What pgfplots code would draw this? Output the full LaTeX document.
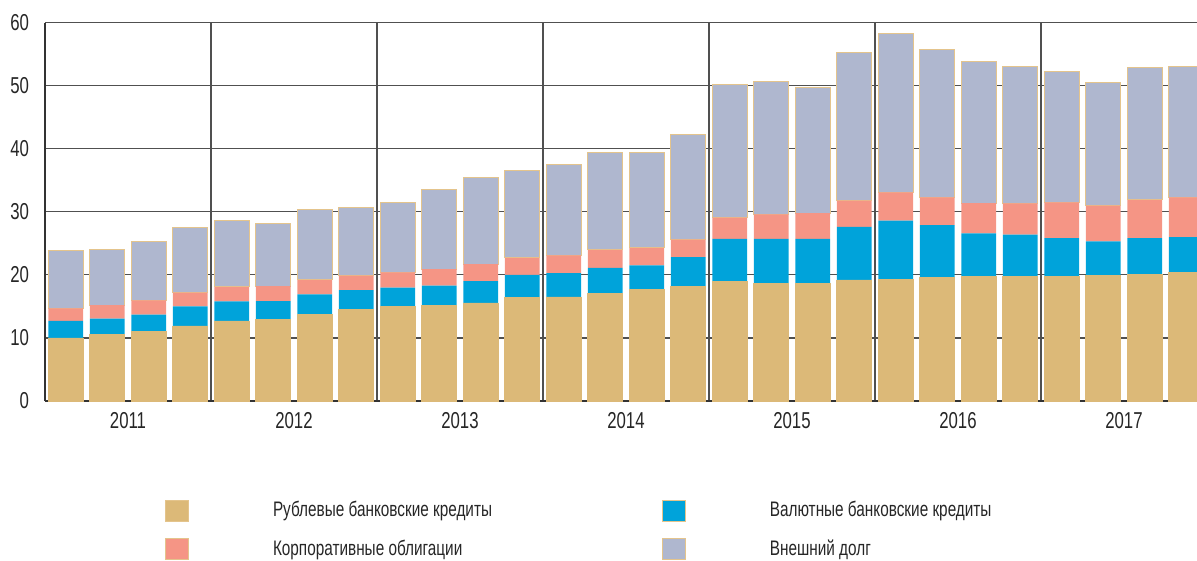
\documentclass[border=0pt]{standalone}
\usepackage{fontspec}
\setmainfont{Liberation Sans}[FakeStretch=0.73]
\usepackage{pgfplots}
\usepackage{pgfplotstable}
\pgfplotsset{compat=1.18}

\definecolor{rub}{RGB}{220,185,120}
\definecolor{val}{RGB}{0,163,218}
\definecolor{korp}{RGB}{245,149,133}
\definecolor{vnesh}{RGB}{175,183,207}
\definecolor{edge}{RGB}{228,196,140}
\definecolor{gridc}{RGB}{80,80,80}

% quarters 2011Q1..2017Q4, stacked increments
\pgfplotstableread{
q  rub   val  korp vnesh
1  10.0  2.7  2.0  9.15
2  10.5  2.55 2.15 8.9
3  11.1  2.6  2.25 9.35
4  11.9  3.1  2.2  10.3
5  12.7  3.1  2.3  10.6
6  13.0  2.85 2.35 10.0
7  13.7  3.2  2.3  11.25
8  14.5  3.1  2.3  10.8
9  15.05 2.95 2.4  11.1
10 15.2  3.1  2.6  12.7
11 15.55 3.45 2.7  13.8
12 16.4  3.6  2.7  13.9
13 16.5  3.8  2.8  14.4
14 17.0  4.1  2.85 15.45
15 17.65 3.85 2.8  15.15
16 18.2  4.6  2.8  16.6
17 19.0  6.7  3.4  21.1
18 18.6  7.1  3.9  21.0
19 18.65 7.05 4.1  19.95
20 19.2  8.4  4.2  23.5
21 19.3  9.3  4.5  25.2
22 19.6  8.3  4.4  23.5
23 19.8  6.8  4.8  22.5
24 19.8  6.6  4.95 21.75
25 19.7  6.15 5.65 20.8
26 19.9  5.4  5.7  19.5
27 20.0  5.85 6.05 21.0
28 20.35 5.65 6.3  20.7
}\debt

\begin{document}
\begin{tikzpicture}
\path[use as bounding box] (-22.5pt,-80pt) rectangle (576pt,200.5pt);
\begin{axis}[
    scale only axis,
    width=576pt, height=189.15pt,
    xmin=0.5, xmax=28.26,
    ymin=0, ymax=60,
    ybar stacked,
    bar width=0.84,
    ytick={0,10,...,60},
    xtick={2.5,6.5,...,26.5},
    xticklabels={2011,2012,2013,2014,2015,2016,2017},
    minor xtick={4.5,8.5,...,24.5},
    ymajorgrids, xminorgrids,
    grid style={draw=gridc, line width=0.6pt},
    minor grid style={draw=gridc, line width=0.6pt},
    major tick length=0pt, minor tick length=0pt,
    axis x line*=bottom, axis y line*=left,
    axis line style={draw=black!80, line width=0.9pt, -},
    /pgf/number format/assume math mode=true,
    tick label style={font=\fontsize{11.5}{13}\selectfont, text=black!85},
    yticklabel style={xshift=-4.5pt},
    xticklabel style={yshift=-2pt},
    every axis plot post/.append style={
        legend image code/.code={\draw[##1, draw=edge, line width=0.4pt] (0pt,-5.25pt) rectangle (11.5pt,5.25pt);}},
    legend columns=2,
    legend cell align=left,
    legend style={draw=none, fill=none, inner sep=0pt,
        at={(0.104,-0.254)}, anchor=north west,
        row sep=6pt, font=\fontsize{10.5}{12}\selectfont, text=black!85,
        /tikz/every odd column/.append style={column sep=40pt},
        /tikz/every even column/.append style={column sep=83pt}},
]
\addplot[fill=rub, draw=rub, line width=0.4pt] table[x=q, y=rub] {\debt};
\addplot[fill=val, draw=none] table[x=q, y=val] {\debt};
\addplot[fill=korp, draw=none] table[x=q, y=korp] {\debt};
\addplot[fill=vnesh, draw=edge, line width=0.5pt] table[x=q, y=vnesh] {\debt};
\legend{Рублевые банковские кредиты, Валютные банковские кредиты, Корпоративные облигации, Внешний долг}
\end{axis}
\end{tikzpicture}
\end{document}
